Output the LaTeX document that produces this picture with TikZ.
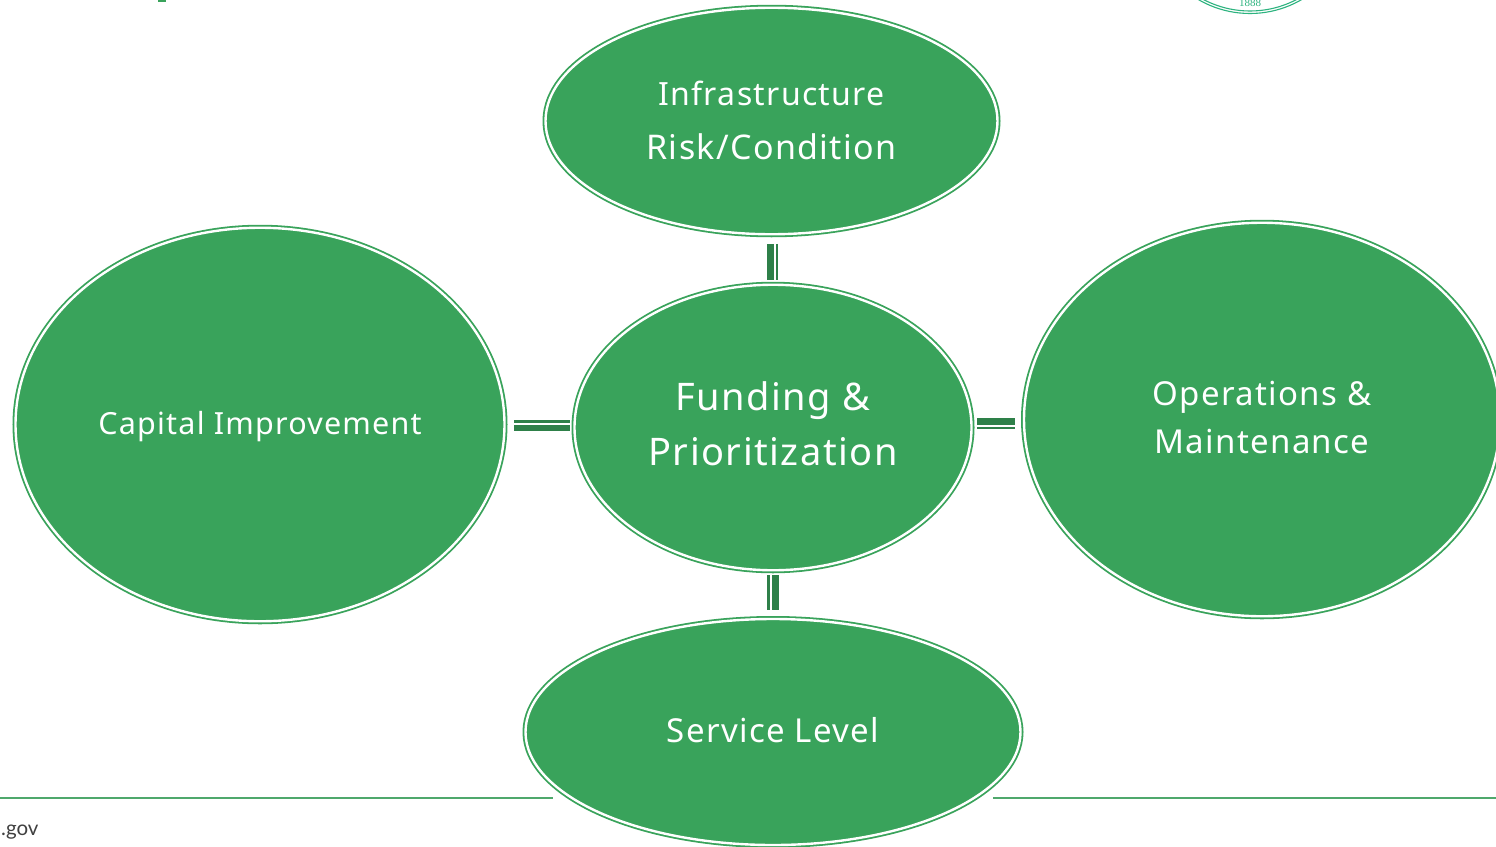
\documentclass[tikz,border=0pt]{standalone}
\usepackage{fontspec}
\setmainfont[LetterSpace=4]{Noto Sans}
\newfontfamily\govfont{Lato}
\newfontfamily\sealfont{Liberation Serif}
\usetikzlibrary{shapes.geometric}
\definecolor{mainG}{HTML}{39A35B}
\definecolor{barG}{HTML}{2E8049}
\definecolor{footG}{HTML}{4FA86C}
\definecolor{sealG}{HTML}{2DB37F}
\definecolor{govC}{HTML}{404040}
\tikzset{
  hub/.style={ellipse,inner sep=0pt,outer sep=0pt,draw=mainG,fill=mainG,line width=1.8pt,double=white,double distance=2.4pt},
  hubtext/.style={inner sep=0pt,text=white,align=center},
  thickbar/.style={draw=barG,line width=6.5pt,shorten <=9.5pt,shorten >=5pt},
  thinbar/.style={draw=barG,line width=2.4pt,shorten <=9.5pt,shorten >=5pt},
  footline/.style={draw=footG,line width=1.5pt},
  seal/.style={draw=sealG,line width=1.1pt},
}
\begin{document}
\begin{tikzpicture}[x=1pt,y=-1pt]
\useasboundingbox (0,0) rectangle (1496,846);
\clip (0,0) rectangle (1496,846);
\fill[white] (0,0) rectangle (1496,846);
% fragments of the slide behind
\fill[mainG] (158,0) rectangle (166,2);
\draw[seal] (1250,-89) circle[radius=102.5];
\draw[seal] (1250,-89) circle[radius=100];
\node[text=sealG,font=\sealfont\fontsize{11}{11}\selectfont,inner sep=0pt] (sealyear) at (1250,2.5) {1888};
% footer
\coordinate (fla) at (0,797.8);\coordinate (flb) at (553,797.8);
\coordinate (flc) at (993,797.8);\coordinate (fld) at (1496,797.8);
\draw[footline] (fla) -- (flb);
\draw[footline] (flc) -- (fld);
\node[anchor=west,inner sep=0pt,text=govC,font=\govfont\fontsize{20.5}{21}\selectfont] (gov) at (1,832.5) {.gov};
% hubs
\node[hub,minimum width=452pt,minimum height=226.5pt,
  label={[hubtext,yshift=1pt,font=\fontsize{33}{54}\selectfont]center:{\fontsize{32}{54}\selectfont Infrastructure\\\fontsize{34}{54}\selectfont Risk/Condition}}] (top) at (771.5,121) {};
\node[hub,minimum width=397pt,minimum height=285.5pt,
  label={[hubtext,yshift=4pt,font=\fontsize{38}{55}\selectfont]center:{Funding \&\\Prioritization}}] (mid) at (773,427.5) {};
\node[hub,minimum width=489pt,minimum height=393.5pt,
  label={[hubtext,yshift=-2pt,font=\fontsize{30.5}{48}\selectfont]center:{Capital Improvement}}] (lft) at (260,424.5) {};
\node[hub,minimum width=476pt,minimum height=393.5pt,
  label={[hubtext,yshift=2pt,font=\fontsize{33}{47.5}\selectfont]center:{Operations \&\\Maintenance}}] (rgt) at (1262,419.5) {};
\node[hub,minimum width=495pt,minimum height=226pt,
  label={[hubtext,yshift=2pt,font=\fontsize{33}{48}\selectfont]center:{Service Level}}] (bot) at (773,732) {};
% connectors
\draw[thickbar] (top.south -| 770.5,0) -- (mid.north -| 770.5,0);
\draw[thinbar] (top.south -| 777,0) -- (mid.north -| 777,0);
\draw[thickbar] (lft.east |- 0,428) -- (mid.west |- 0,428);
\draw[thinbar] (lft.east |- 0,421.5) -- (mid.west |- 0,421.5);
\draw[thickbar] (rgt.west |- 0,421.5) -- (mid.east |- 0,421.5);
\draw[thinbar] (rgt.west |- 0,428) -- (mid.east |- 0,428);
\draw[thickbar] (bot.north -| 775.5,0) -- (mid.south -| 775.5,0);
\draw[thinbar] (bot.north -| 768.5,0) -- (mid.south -| 768.5,0);
\end{tikzpicture}
\end{document}
